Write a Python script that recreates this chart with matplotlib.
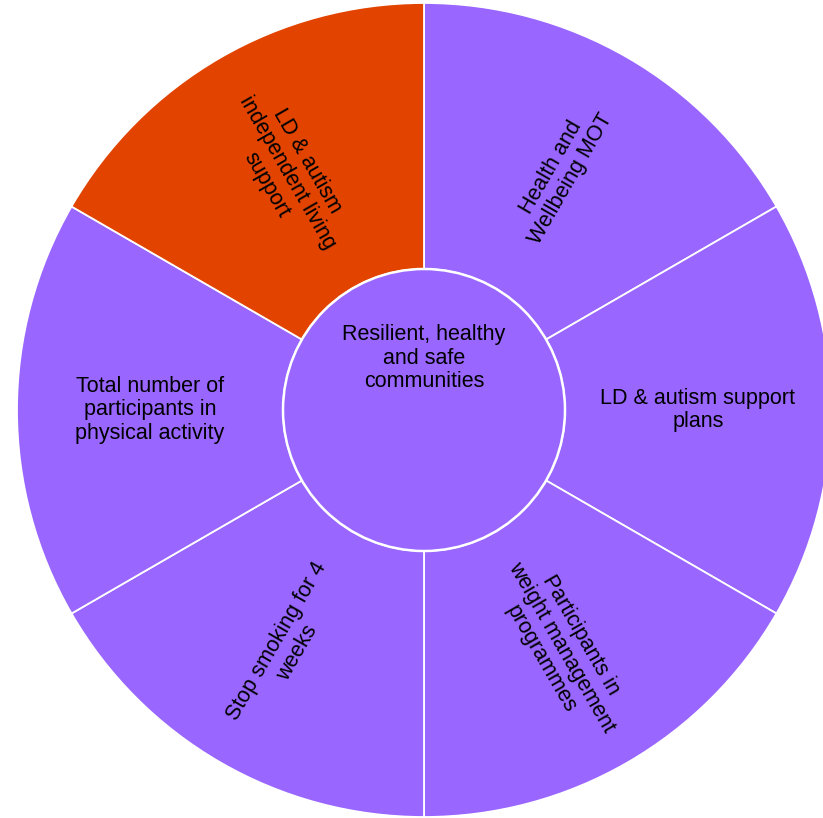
import matplotlib
matplotlib.use('Agg')
import matplotlib.pyplot as plt
from matplotlib.patches import Circle
import numpy as np

plt.rcParams['font.family'] = ['Liberation Sans', 'DejaVu Sans']

center_label = 'Resilient, healthy\nand safe\ncommunities'
labels = [
    'Health and\nWellbeing MOT',
    'LD & autism support\nplans',
    'Participants in\nweight management\nprogrammes',
    'Stop smoking for 4\nweeks',
    'Total number of\nparticipants in\nphysical activity',
    'LD & autism\nindependent living\nsupport',
]
values = [1, 1, 1, 1, 1, 1]
colors = ['#9966ff', '#9966ff', '#9966ff', '#9966ff', '#9966ff', '#e24400']

R_out = 407
R_in = 141

fig = plt.figure(figsize=(8.23, 8.18), dpi=100)
ax = fig.add_axes([0, 0, 1, 1])

wedges, _ = ax.pie(values, radius=R_out, startangle=90, counterclock=False,
                   colors=colors,
                   wedgeprops=dict(width=R_out - R_in, edgecolor='white', linewidth=1.3))

# centre disc
ax.add_patch(Circle((0, 0), R_in, facecolor='#9966ff', edgecolor='white', linewidth=1.8, zorder=3))
ax.text(0, 52, center_label, ha='center', va='center', fontsize=15.5,
        linespacing=1.15, zorder=4)

# segment labels, rotated along the radius
r_txt = (R_out + R_in) / 2
for w, lab in zip(wedges, labels):
    mid = (w.theta1 + w.theta2) / 2
    x = r_txt * np.cos(np.radians(mid))
    y = r_txt * np.sin(np.radians(mid))
    rot = mid
    if np.cos(np.radians(mid)) < -1e-6:
        rot = mid - 180
    rot = (rot + 180) % 360 - 180
    ax.text(x, y, lab, ha='center', va='center', rotation=rot, rotation_mode='anchor',
            fontsize=15.5, linespacing=1.15, multialignment='center', zorder=4)

ax.set_xlim(-424, 399)
ax.set_ylim(-408, 410)
ax.set_aspect('equal')
ax.axis('off')

fig.savefig('out.png', dpi=100, facecolor='white')
